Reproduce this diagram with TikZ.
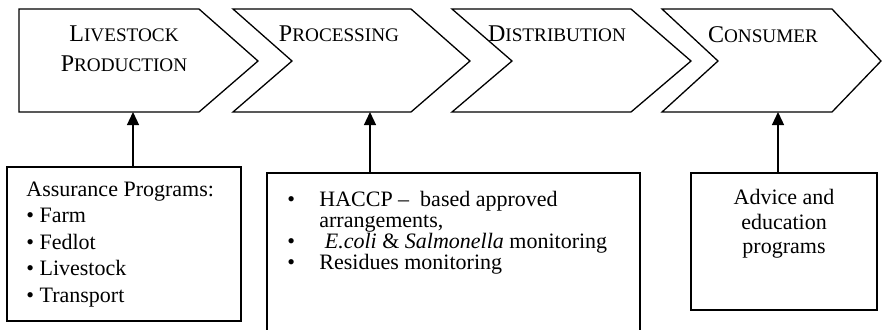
\documentclass[tikz,border=0pt]{standalone}
\usepackage{fontspec}
\setmainfont{Liberation Serif}
\usetikzlibrary{arrows.meta}
\newcommand\fakesc[2]{#1{\fontsize{9.6}{12}\selectfont #2}}
\newcommand\tightlines{\fontsize{11}{10.5}\selectfont\lineskiplimit=-20pt\relax}
\tikzset{
  chevron/.style={draw, line width=0.65pt},
  infobox/.style={draw, line width=0.65pt, inner sep=0pt},
  stage/.style={font=\fontsize{12}{14.5}\selectfont, inner sep=0pt, align=center, anchor=north},
  boxtext/.style={font=\fontsize{11}{13.25}\selectfont, inner sep=0pt, anchor=north west, align=left},
  uparrow/.style={line width=0.65pt, -{Triangle[length=6.5pt,width=6pt]}}
}
\begin{document}
\begin{tikzpicture}[x=0.5pt, y=-0.5pt]
    \useasboundingbox (0,0) rectangle (882,329);
    %Chuoi
    \draw[chevron] (19,9) -- (199,9) -- (258,61) -- (199,112) -- (19,112) -- cycle;
    \draw[chevron] (233,9) -- (411,9) -- (470,61) -- (411,112) -- (233,112) -- (292,61) -- cycle;
    \draw[chevron] (452,9) -- (631,9) -- (691,61) -- (631,112) -- (452,112) -- (512,61) -- cycle;
    \draw[chevron] (662,9) -- (832,9) -- (881,61) -- (832,112) -- (662,112) -- (718,61) -- cycle;
    \node[stage] (livestock) at (124,25.8) {\fakesc{L}{IVESTOCK}\\[0.1pt]\fakesc{P}{RODUCTION}};
    \node[stage] (processing) at (339,25.8) {\fakesc{P}{ROCESSING}};
    \node[stage] (distribution) at (557,25.8) {\fakesc{D}{ISTRIBUTION}};
    \node[stage] (consumer) at (763,25.8) {\fakesc{C}{ONSUMER}};
    %Diem noi
    \coordinate (c1) at (133,112);
    \coordinate (c2) at (370,112);
    \coordinate (c3) at (778,112);
    %Hop
    \node[infobox, minimum width=117pt, minimum height=77pt] (assurance) at (124,244) {};
    \node[infobox, minimum width=186.5pt, minimum height=85pt] (haccp) at (453.5,258) {};
    \node[infobox, minimum width=93pt, minimum height=68.5pt] (advice) at (784,241.5) {};
    %Chu
    \node[boxtext] (assurancetext) at (26,181.4) {Assurance Programs:\\
      \textbullet{} Farm\\ \textbullet{} Fedlot\\ \textbullet{} Livestock\\ \textbullet{} Transport};
    \node[boxtext, font=\tightlines] (haccptext) at (287,191) {%
      \makebox[16pt][l]{\textbullet}HACCP --\ \ based approved\\
      \makebox[16pt][l]{}arrangements,\\
      \makebox[16pt][l]{\textbullet}\ \textit{E.coli} \& \textit{Salmonella} monitoring\\
      \makebox[16pt][l]{\textbullet}Residues monitoring};
    \node[boxtext, anchor=north, align=center, font=\fontsize{11}{12.25}\selectfont] (advicetext) at (784,189) {Advice and\\ education\\ programs};
    %Mui ten
    \draw[uparrow] (c1 |- assurance.north) -- (c1);
    \draw[uparrow] (c2 |- haccp.north) -- (c2);
    \draw[uparrow] (c3 |- advice.north) -- (c3);
\end{tikzpicture}
\end{document}
